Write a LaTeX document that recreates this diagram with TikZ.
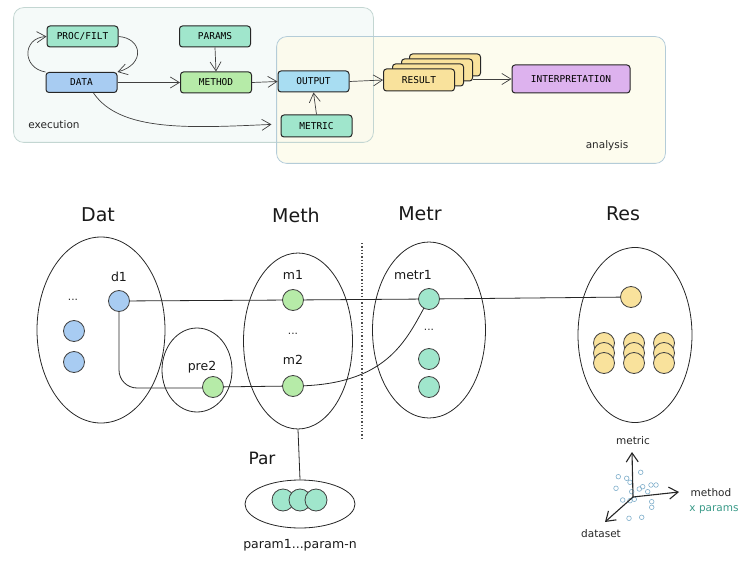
\documentclass[tikz,border=0pt]{standalone}
\usepackage{fontspec}
\setmainfont{DejaVu Sans}
\newfontfamily\boxfont{DejaVu Sans Mono}
\usetikzlibrary{arrows.meta,shapes.geometric,calc}
\definecolor{mint}{HTML}{A0E6CC}
\definecolor{dblue}{HTML}{A8CCF2}
\definecolor{mgreen}{HTML}{B6EBA8}
\definecolor{cyanb}{HTML}{A8DDF2}
\definecolor{yel}{HTML}{F9E29C}
\definecolor{lav}{HTML}{DDB2EE}
\definecolor{execfill}{HTML}{F5FAF9}
\definecolor{execdraw}{HTML}{C3D6D2}
\definecolor{anafill}{HTML}{FDFBEA}
\definecolor{anadraw}{HTML}{B4CCD8}
\definecolor{scat}{HTML}{7FAECB}
\definecolor{tealtxt}{HTML}{3A9A88}
\tikzset{
  pbox/.style={draw=black!85, line width=1pt, rounded corners=3pt, minimum width=71pt,
    minimum height=21pt, inner sep=0pt, font=\boxfont\fontsize{9.5}{11}\selectfont},
  arr/.style={-{Straight Barb[length=9pt,width=11pt]}, line width=0.7pt, draw=black!75},
  axarr/.style={-{Straight Barb[length=9pt,width=12pt]}, line width=1.1pt, draw=black!85},
  ell/.style={draw=black!85, ellipse, line width=0.8pt, inner sep=0pt},
  dotn/.style={circle, draw=black!75, line width=0.8pt, minimum size=21pt, inner sep=0pt},
  link/.style={draw=black!85, line width=0.8pt},
  grp/.style={rounded corners=10pt, line width=0.8pt, inner sep=0pt},
  ttl/.style={font=\fontsize{19}{22}\selectfont, text=black!90},
  lbl/.style={font=\fontsize{12.5}{15}\selectfont, text=black!90},
  sml/.style={font=\fontsize{10.5}{12}\selectfont, text=black!85},
  sc/.style={draw=scat, line width=0.6pt}
}
\begin{document}
\begin{tikzpicture}[x=1pt,y=-1pt]
\useasboundingbox (0,0) rectangle (752,572);
% group boxes
\node[grp, fill=execfill, minimum width=359pt, minimum height=134pt] (exec) at (193.5,75) {};
\node[grp, fill=anafill, fill opacity=0.8, minimum width=388pt, minimum height=126pt] (ana) at (471,100) {};
\draw[execdraw, grp] (exec.north west) rectangle (exec.south east);
\draw[anadraw, grp] (ana.north west) rectangle (ana.south east);
\node[sml] (exlab) at (54,125) {execution};
\node[sml] (analab) at (607,146) {analysis};
% process boxes
\node[pbox, fill=mint] (proc) at (82.5,36.5) {PROC/FILT};
\node[pbox, fill=mint] (params) at (215,36.5) {PARAMS};
\node[pbox, fill=dblue, minimum height=20pt] (data) at (81.5,82.5) {DATA};
\node[pbox, fill=mgreen] (method) at (216,82.5) {METHOD};
\node[pbox, fill=cyanb] (output) at (313.5,81.5) {OUTPUT};
\node[pbox, fill=mint, minimum height=22pt] (metric) at (316.5,126) {METRIC};
\node[pbox, fill=yel, minimum height=22pt] (res3) at (445,65) {};
\node[pbox, fill=yel, minimum height=22pt] (res2) at (437,70) {};
\node[pbox, fill=yel, minimum height=22pt] (res1) at (428,75) {};
\node[pbox, fill=yel, minimum height=22pt] (res0) at (419,80) {RESULT};
\node[pbox, fill=lav, minimum width=118pt, minimum height=28pt] (intp) at (571,79) {INTERPRETATION};
% top arrows
\draw[arr] (data.east) -- (method.west);
\draw[arr] (method.east) -- (output.west);
\draw[arr] (params.south) -- (method.north);
\draw[arr] (metric.north) -- (output.south);
\draw[arr] (output.east) -- (res0.west);
\draw[arr] (res2.east |- intp.west) -- (intp.west);
\draw[arr] (data.north west) .. controls (22,68) and (22,38) .. (proc.west);
\draw[arr] (proc.east) .. controls (142,38) and (146,64) .. (data.north east);
\draw[arr, shorten >=9pt] ([xshift=12pt]data.south) .. controls (120,132) and (190,128) .. ([yshift=2pt]metric.west);
% bottom section titles
\node[ttl] (tdat) at (98,215) {Dat};
\node[ttl] (tmeth) at (296,215) {Meth};
\node[ttl] (tmetr) at (420,214) {Metr};
\node[ttl] (tres) at (623,214) {Res};
% ellipses
\node[ell, minimum width=128pt, minimum height=186pt] (edat) at (101,330) {};
\node[ell, minimum width=70pt, minimum height=84pt] (epre) at (197,370) {};
\node[ell, minimum width=109pt, minimum height=176pt] (emeth) at (298,341) {};
\node[ell, minimum width=113pt, minimum height=176pt] (emetr) at (429,330) {};
\node[ell, minimum width=114pt, minimum height=175pt] (eres) at (635,335) {};
\node[ell, minimum width=110pt, minimum height=48pt] (epar) at (300,504) {};
% dotted separator
\draw[dotted, line width=1.3pt, black!70] (362,243) -- (362,440);
% connectors
\draw[link] (emeth.south) -- (epar.north);
\draw[link, rounded corners=18pt] (119,301) |- (213,388);
\draw[link] (119,301) -- (293,300);
\draw[link] (293,300) -- (429,299);
\draw[link] (429,299) -- (631,297);
\draw[link] (213,387) -- (293,386);
\draw[link] (293,386) .. controls (392,386) and (408,335) .. (429,299);
% dots
\node[dotn, fill=dblue] (d1) at (119,301) {};
\node[dotn, fill=dblue] (d2) at (74,331) {};
\node[dotn, fill=dblue] (d3) at (74,362) {};
\node[sml] (ddots) at (73,300) {...};
\node[lbl] (ld1) at (119,277) {d1};
\node[dotn, fill=mgreen] (pre2) at (213,387) {};
\node[lbl] (lpre) at (202,367) {pre2};
\node[dotn, fill=mgreen] (m1) at (293,300) {};
\node[lbl] (lm1) at (293,275) {m1};
\node[sml] (mdots) at (293,334) {...};
\node[lbl] (lm2) at (293,360) {m2};
\node[dotn, fill=mgreen] (m2) at (293,386) {};
\node[dotn, fill=mint] (metr1) at (429,299) {};
\node[lbl] (lmetr) at (413,275) {metr1};
\node[sml] (tdots) at (429,330) {...};
\node[dotn, fill=mint] (t2) at (429,359) {};
\node[dotn, fill=mint] (t3) at (429,387) {};
\node[dotn, fill=yel] (r1) at (631,297) {};
\foreach \cx/\k in {604/a,634/b,664/c}{
  \node[dotn, fill=yel] (s\k1) at (\cx,343) {};
  \node[dotn, fill=yel] (s\k2) at (\cx,353) {};
  \node[dotn, fill=yel] (s\k3) at (\cx,363) {};
}
% params
\node[ttl, font=\fontsize{17}{20}\selectfont] (tpar) at (262,458) {Par};
\node[dotn, fill=mint, minimum size=22pt] (p1) at (283,500) {};
\node[dotn, fill=mint, minimum size=22pt] (p2) at (300,500) {};
\node[dotn, fill=mint, minimum size=22pt] (p3) at (316,500) {};
\node[lbl] (lpar) at (300,545) {param1...param-n};
% axes
\coordinate (o) at (633,497);
\foreach \px/\py in {618.3/476.7,626.7/478.3,640.7/472.3,630/482.3,616/488.3,631.7/491.7,639.3/489,642.7/486.7,651/485,656/485,647.7/491.7,622.7/500,634.3/499.3,630/500.7,651.7/501.7,651.7/507.3,629/518.3,641.7/517.3}{
  \draw[sc] (\px,\py) circle (2.3pt);
}
\coordinate (ym) at (632,452);
\coordinate (xm) at (679,492);
\coordinate (zm) at (605,522);
\draw[axarr] (o) -- (ym);
\draw[axarr] (o) -- (xm);
\draw[axarr] (o) -- (zm);
\node[sml] (lmetric) at (633,441) {metric};
\node[sml] (lmethod) at (711,493) {method};
\node[sml, text=tealtxt] (lxp) at (714,510) {x params};
\node[sml] (ldata) at (601,534) {dataset};
\end{tikzpicture}
\end{document}
